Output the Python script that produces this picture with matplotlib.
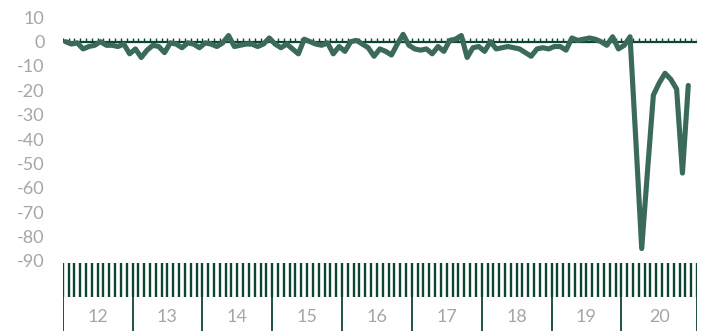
import matplotlib
matplotlib.use('Agg')
import matplotlib.pyplot as plt
import numpy as np

# monthly y/y change, Jan 2012 onwards (last group "20" has 13 slots)
values = [
    0, -1, -0.5, -3, -2, -1.5, 0, -1.5, -1.5, -2, -1, -5,
    -3, -6.5, -3.5, -1.5, -2, -4.5, -0.5, -1, -2.5, -0.5, -1, -2.5,
    -0.5, -1, -2, -0.5, 2.5, -2, -1.5, -1, -1, -2, -1, 1.5,
    -1, -2.5, -1, -3, -5, 1, 0, -1, -1.5, -0.5, -5, -2,
    -4, 0, 0.5, -1, -2.5, -6, -3, -4, -5.5, -1, 3, -1.5,
    -3, -3.5, -3, -5, -2, -4, 0.5, 1, 2.5, -6.5, -2.5, -2,
    -4, 0, -3, -2.5, -2, -2.5, -3, -4.5, -6, -3, -2.5, -3,
    -2, -2, -3.5, 1.5, 0.5, 1, 1.5, 1, 0, -1.5, 2, -3,
    -1.5, 2, -41, -85, -53, -22, -17, -13, -15.5, -19.5, -54, -18,
]
year_labels = ['12', '13', '14', '15', '16', '17', '18', '19', '20']
months_per_group = [12, 12, 12, 12, 12, 12, 12, 12, 13]
y_ticks = list(range(-90, 11, 10))

line_color = '#3b6b58'
dark = '#0d4630'
grey = '#a6a6a6'
W, H = 704, 331

plt.rcParams['font.family'] = ['Lato', 'DejaVu Sans']

n_slots = sum(months_per_group)
bounds = np.concatenate([[0], np.cumsum(months_per_group)])

fig = plt.figure(figsize=(W / 100, H / 100), dpi=100)
left, right = 62.7 / W, 697 / W
top_px, bot_px = 17.3, 260.7
ax = fig.add_axes([left, 1 - bot_px / H, right - left, (bot_px - top_px) / H])

x = np.arange(len(values)) + 0.5
ax.axhline(0, color=dark, lw=1.6, zorder=2)
ax.vlines(np.arange(n_slots + 1), 0, 1.4, color=dark, lw=1.0, zorder=2)
ax.plot(x, values, color=line_color, lw=3.7, solid_joinstyle='round',
        solid_capstyle='round', zorder=3, clip_on=False)

ax.set_xlim(0, n_slots)
ax.set_ylim(-90, 10)
ax.set_yticks(y_ticks)
ax.set_yticklabels([str(v) for v in y_ticks], color=grey, fontsize=13)
ax.tick_params(axis='y', length=0, pad=13)
ax.set_xticks([])
for s in ax.spines.values():
    s.set_visible(False)

# category band below the plot (y in pixels from the top of the figure)
band = fig.add_axes([left, 0, right - left, (H - bot_px) / H])
band.set_xlim(0, n_slots)
band.set_ylim(H, bot_px)
band.axis('off')
band.vlines(np.arange(n_slots + 1), 263, 297, color=dark, lw=1.7)
band.vlines(bounds, 297, H, color=dark, lw=1.3)
for i, lab in enumerate(year_labels):
    band.text((bounds[i] + bounds[i + 1]) / 2, 317, lab, ha='center',
              va='center', color=grey, fontsize=13)

fig.savefig('out.png', dpi=100)
